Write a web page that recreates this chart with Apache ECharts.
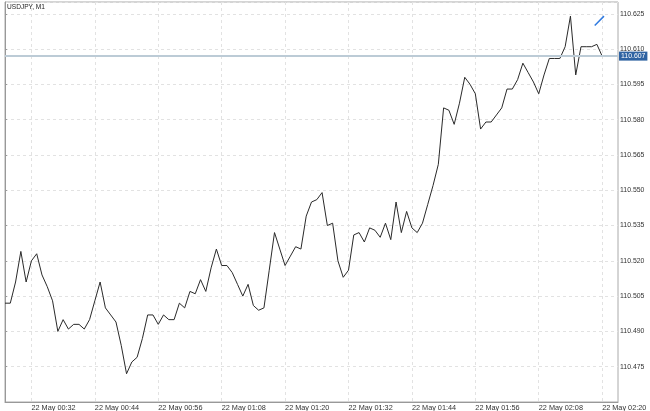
<!DOCTYPE html>
<html>
<head>
<meta charset="utf-8">
<script src="https://cdn.jsdelivr.net/npm/echarts@6/dist/echarts.min.js"></script>
<style>
html,body{margin:0;padding:0;background:#fff;}
#c{width:650px;height:411px;}
</style>
</head>
<body>
<div id="c"></div>
<script>
// ---- data ----
var title = 'USDJPY, M1';
var datePrefix = '22 May ';
var startMinute = 27;        // first category 00:27
var categoryCount = 117;     // 00:27 .. 02:23
var tickLabelTimes = ['00:32','00:44','00:56','01:08','01:20','01:32','01:44','01:56','02:08','02:20'];
var prices = [
  110.502,110.502,110.511,110.524,110.511,110.520,110.523,110.514,110.509,110.503,
  110.490,110.495,110.491,110.493,110.493,110.491,110.495,110.503,110.511,110.500,
  110.497,110.494,110.484,110.472,110.477,110.479,110.487,110.497,110.497,110.493,
  110.497,110.495,110.495,110.502,110.500,110.507,110.506,110.512,110.507,110.517,
  110.525,110.518,110.518,110.515,110.510,110.505,110.510,110.501,110.499,110.500,
  110.516,110.532,110.525,110.518,110.522,110.526,110.525,110.539,110.545,110.546,
  110.549,110.535,110.536,110.520,110.513,110.516,110.531,110.532,110.528,110.534,
  110.533,110.530,110.536,110.529,110.545,110.532,110.541,110.534,110.532,110.536,
  110.544,110.552,110.561,110.585,110.584,110.578,110.587,110.598,110.595,110.591,
  110.576,110.579,110.579,110.582,110.585,110.593,110.593,110.597,110.604,110.600,
  110.596,110.591,110.599,110.606,110.606,110.606,110.611,110.624,110.599,110.611,
  110.611,110.611,110.612,110.607
];
// trend line drawn on chart (index position, price)
var trendX = [111.6, 113.35];
var trendY = [110.620, 110.624];
var currentPrice = prices[prices.length - 1];

// ---- build ----
function pad(n){return (n<10?'0':'')+n;}
var categories = [];
for (var i = 0; i < categoryCount; i++) {
  var m = startMinute + i;
  categories.push(pad(Math.floor(m/60)) + ':' + pad(m%60));
}
function isTick(idx){ return tickLabelTimes.indexOf(categories[idx]) >= 0; }

var chart = echarts.init(document.getElementById('c'), null, {renderer:'canvas'});
var font = 'Liberation Sans, Arial, sans-serif';
chart.setOption({
  animation: false,
  backgroundColor: '#ffffff',
  title: {
    text: title, left: 7, top: 4, padding: 0,
    textStyle: {fontSize: 6.6, fontWeight: 'normal', color: '#222', fontFamily: font}
  },
  grid: {
    left: 5, right: 32, top: 2, height: 400,
    show: true, borderColor: '#aaaaaa', borderWidth: 1, backgroundColor: '#fff'
  },
  xAxis: [{
    type: 'category',
    data: categories,
    boundaryGap: false,
    axisLine: {show: true, lineStyle: {color: '#999', width: 1}},
    axisTick: {show: false},
    axisLabel: {
      interval: function(idx){ return isTick(idx); },
      formatter: function(v){ return datePrefix + v; },
      align: 'left', margin: 2,
      fontSize: 7.3, color: '#333', fontFamily: font
    },
    splitLine: {
      show: true,
      interval: function(idx){ return isTick(idx); },
      lineStyle: {color: '#e2e2e2', type: [3, 3], width: 1}
    }
  }, {
    type: 'value', min: 0, max: categoryCount - 1, show: false
  }],
  yAxis: {
    type: 'value',
    position: 'right',
    min: 110.460, max: 110.630, interval: 0.015,
    axisLine: {show: true, lineStyle: {color: '#999', width: 1}},
    axisTick: {show: true, length: 2, lineStyle: {color: '#999'}},
    axisLabel: {
      showMinLabel: false, showMaxLabel: false, hideOverlap: false,
      margin: 2, fontSize: 6.9, color: '#333', fontFamily: font,
      formatter: function(v){ return v.toFixed(3); }
    },
    splitLine: {show: true, lineStyle: {color: '#e2e2e2', type: [3, 3], width: 1}}
  },
  series: [{
    type: 'line',
    data: prices,
    showSymbol: false,
    symbol: 'none',
    lineStyle: {color: '#2a2a2a', width: 1},
    z: 3,
    markLine: {
      silent: true,
      symbol: 'none',
      precision: 3,
      lineStyle: {color: '#bccbd6', width: 2, type: 'solid'},
      label: {
        show: true, position: 'end', distance: 1,
        formatter: function(){ return currentPrice.toFixed(3); },
        backgroundColor: '#2f63a2', color: '#fff',
        padding: [1, 2, 1, 2], fontSize: 6.9, fontFamily: font
      },
      data: [{yAxis: currentPrice}]
    }
  }, {
    type: 'line',
    xAxisIndex: 1,
    data: [[trendX[0], trendY[0]], [trendX[1], trendY[1]]],
    showSymbol: false,
    symbol: 'none',
    lineStyle: {color: '#2f7ae0', width: 1.5},
    z: 4
  }]
});
</script>
</body>
</html>
